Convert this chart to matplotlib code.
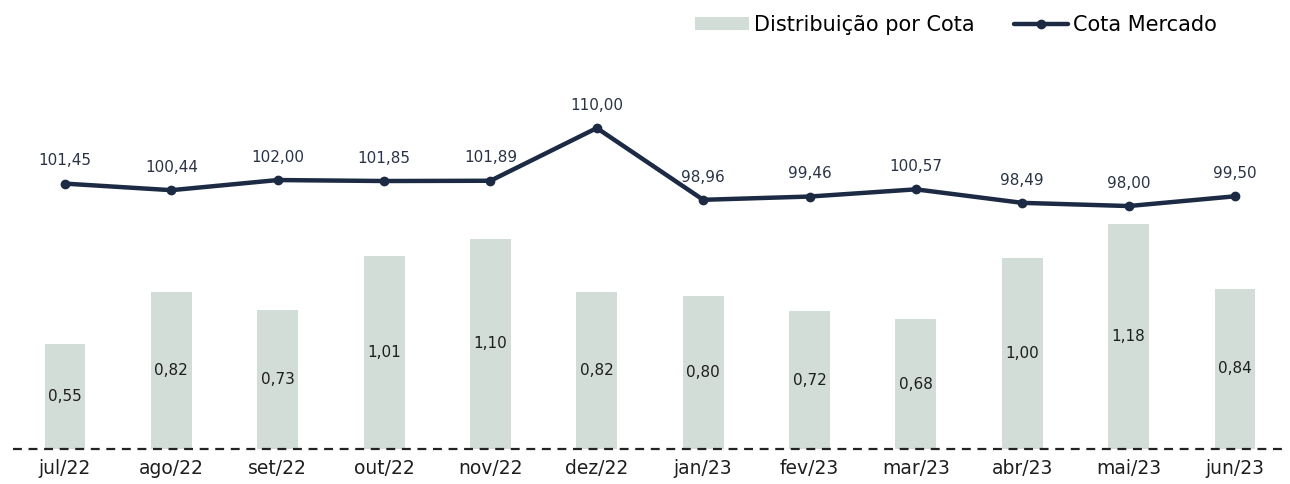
import numpy as np
import matplotlib.pyplot as plt

# data
meses = ['jul/22', 'ago/22', 'set/22', 'out/22', 'nov/22', 'dez/22',
         'jan/23', 'fev/23', 'mar/23', 'abr/23', 'mai/23', 'jun/23']
distribuicao = [0.55, 0.82, 0.73, 1.01, 1.10, 0.82, 0.80, 0.72, 0.68, 1.00, 1.18, 0.84]
cota_mercado = [101.45, 100.44, 102.00, 101.85, 101.89, 110.00,
                98.96, 99.46, 100.57, 98.49, 98.00, 99.50]

cor_barra = '#D1DDD6'
cor_linha = '#1C2A44'
cor_texto = '#1E1E1E'

plt.rcParams['font.family'] = ['DejaVu Sans']

def br(v):
    return f'{v:.2f}'.replace('.', ',')

x = np.arange(len(meses))

fig = plt.figure(figsize=(12.9, 4.84), dpi=100)
ax = fig.add_axes([0, 35 / 484, 1, 449 / 484])
ax.patch.set_alpha(0)

bars = ax.bar(x, distribuicao, width=0.385, color=cor_barra, zorder=1,
              label='Distribuição por Cota')
for xi, v in zip(x, distribuicao):
    ax.text(xi, v / 2, br(v), ha='center', va='center', fontsize=11, color=cor_texto)

ax.set_xlim(-0.611, 11.517)
ax.set_ylim(0, 2.35)
ax.axhline(0, xmin=0.01, xmax=0.996, color='#222222', lw=1.6, ls=(0, (4, 3)), zorder=3,
           clip_on=False)

ax.set_xticks(x)
ax.set_xticklabels(meses, fontsize=13.5, color=cor_texto)
ax.tick_params(axis='x', length=0, pad=7)
ax.set_yticks([])
for s in ax.spines.values():
    s.set_visible(False)

ax2 = ax.twinx()
ax2.plot(x, cota_mercado, color=cor_linha, lw=3.2, marker='o', markersize=6,
         solid_capstyle='round', zorder=5, label='Cota Mercado')
for xi, v in zip(x, cota_mercado):
    ax2.annotate(br(v), (xi, v), xytext=(0, 11), textcoords='offset points',
                 ha='center', va='bottom', fontsize=11, color='#2A3346')
ax2.set_ylim(60.62, 129.7)
ax2.set_yticks([])
for s in ax2.spines.values():
    s.set_visible(False)

h1, l1 = ax.get_legend_handles_labels()
h2, l2 = ax2.get_legend_handles_labels()
fig.legend(h1 + h2, l1 + l2, loc='center right', bbox_to_anchor=(0.958, 1 - 25 / 484),
           ncol=2, frameon=False, fontsize=15, handlelength=2.6,
           handletextpad=0.24, columnspacing=1.9, handleheight=0.62)

fig.savefig('out.png', dpi=100)
